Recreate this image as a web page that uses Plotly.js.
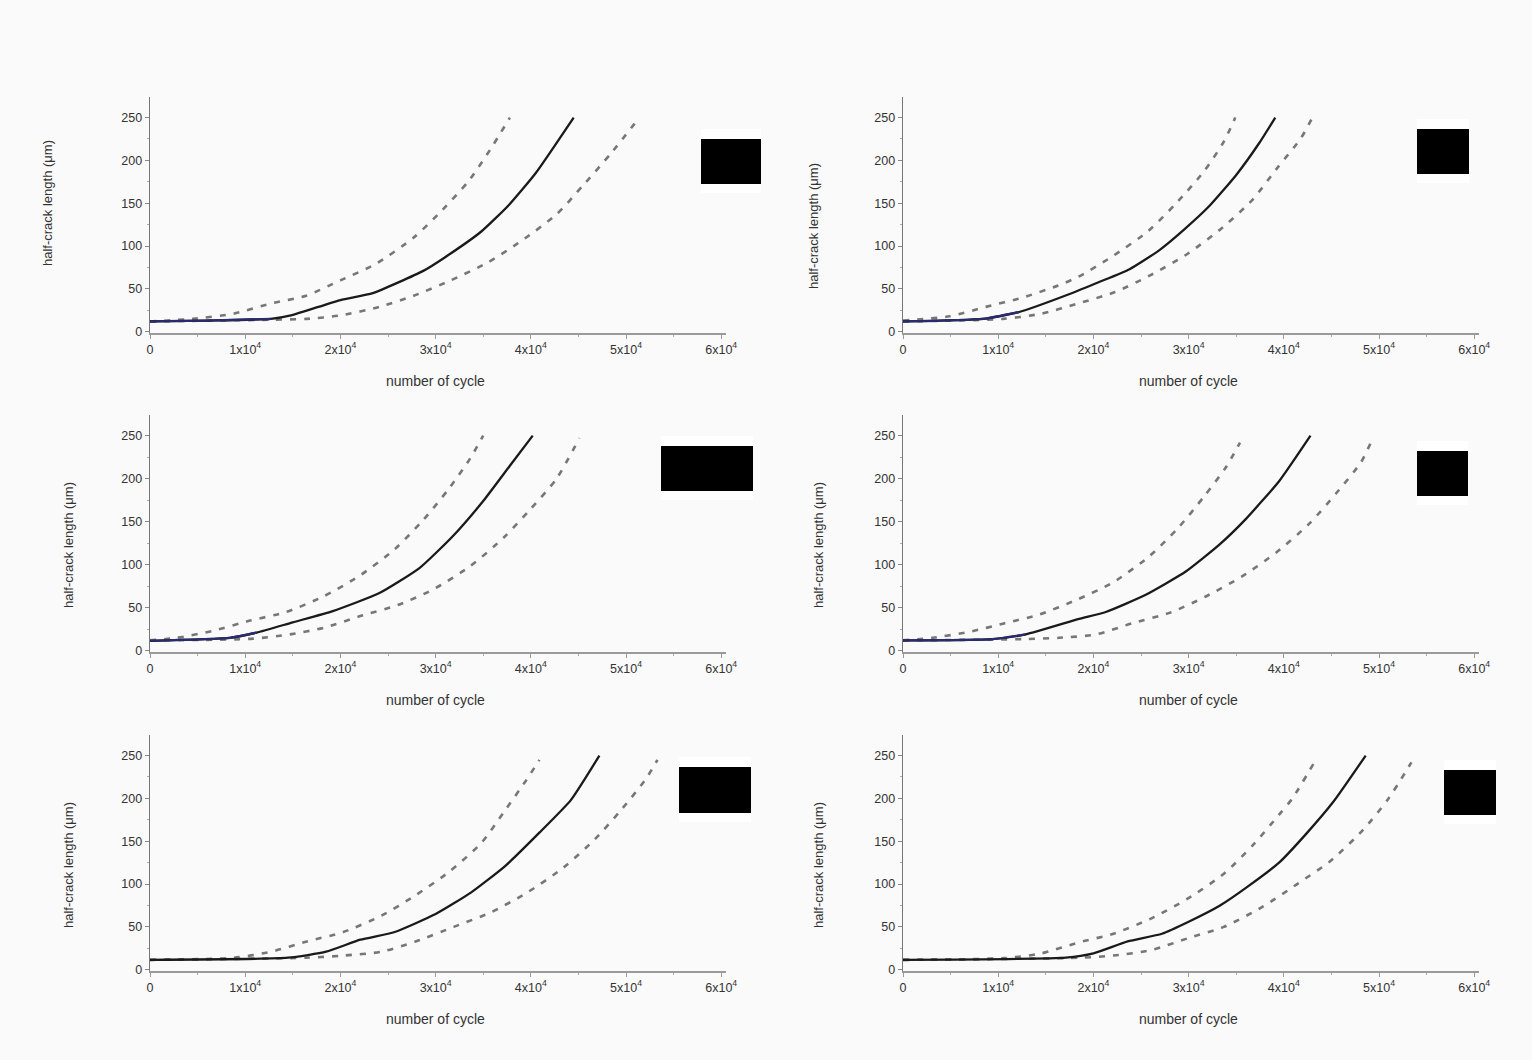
<!DOCTYPE html>
<html>
<head>
<meta charset="utf-8">
<script src="https://cdn.plot.ly/plotly-3.0.1.min.js"></script>
<style>
  html, body { margin: 0; padding: 0; background: #fafafa; }
  #chart { width: 1532px; height: 1060px; }
</style>
</head>
<body>
<div id="chart"></div>
<script>
// Axis ticks
const cycleTicks = [0, 10000, 20000, 30000, 40000, 50000, 60000];
const cycleTickText = ['0', '1x10<sup>4</sup>', '2x10<sup>4</sup>', '3x10<sup>4</sup>', '4x10<sup>4</sup>', '5x10<sup>4</sup>', '6x10<sup>4</sup>'];
const lengthTicks = [0, 50, 100, 150, 200, 250];

// Panel 1 (top left)
const p1MeanN  = [0, 6000, 12700, 14800, 20000, 23400, 28700, 31000, 34800, 37700, 40500, 44500];
const p1MeanA  = [12, 13, 15, 19, 37, 45, 71, 87, 117, 148, 185, 250];
const p1UpperN = [0, 4500, 8750, 12700, 16400, 20000, 23700, 27700, 30700, 33400, 35700, 37800];
const p1UpperA = [12, 15, 21, 33, 42, 60, 79, 110, 142, 175, 212, 250];
const p1LowerN = [0, 12700, 16400, 20000, 24100, 27700, 31600, 35500, 39000, 42700, 45500, 48400, 51400];
const p1LowerA = [12, 14, 15, 19, 29, 42, 60, 81, 106, 137, 171, 208, 250];

// Panel 2 (top right)
const p2MeanN  = [0, 8400, 12200, 17500, 20600, 23800, 26900, 29400, 32200, 35000, 37400, 39100];
const p2MeanA  = [12, 15, 23, 44, 58, 73, 95, 118, 147, 183, 220, 250];
const p2UpperN = [0, 4900, 8700, 12600, 16300, 18400, 22000, 25700, 28700, 31600, 33700, 34900];
const p2UpperA = [13, 18, 29, 40, 54, 64, 88, 117, 150, 187, 222, 250];
const p2LowerN = [0, 10500, 14500, 18400, 22200, 26000, 29900, 33600, 36700, 39300, 41800, 43000];
const p2LowerA = [12, 15, 21, 33, 46, 66, 91, 122, 154, 191, 226, 250];

// Panel 3 (middle left)
const p3MeanN  = [0, 8400, 11200, 15000, 19200, 24100, 28300, 31800, 35000, 37800, 40200];
const p3MeanA  = [11.5, 15, 21, 33, 46, 67, 96, 133, 174, 215, 250];
const p3UpperN = [0, 2800, 6600, 10500, 14300, 18200, 22000, 25700, 28700, 31300, 33600, 35000];
const p3UpperA = [12, 15, 23, 35, 45, 63, 87, 118, 152, 187, 223, 250];
const p3LowerN = [0, 10800, 14700, 18400, 22000, 26000, 29700, 33600, 37100, 40000, 42700, 45100];
const p3LowerA = [12, 14, 19, 27, 40, 53, 71, 98, 131, 165, 200, 247];

// Panel 4 (middle right)
const p4MeanN  = [0, 9400, 12900, 18500, 21300, 25500, 29700, 33200, 36000, 39500, 42800];
const p4MeanA  = [12, 13.5, 19, 37, 45, 65, 92, 123, 153, 197, 250];
const p4UpperN = [0, 3100, 7000, 10700, 14300, 18200, 22000, 25900, 29000, 31600, 33900, 35400];
const p4UpperA = [12, 15, 22, 32, 42, 59, 79, 110, 144, 179, 213, 242];
const p4LowerN = [0, 12600, 16400, 20300, 24100, 28000, 31800, 35700, 39300, 42700, 45500, 48100, 49300];
const p4LowerA = [12, 13.5, 15, 19, 32, 44, 63, 87, 115, 148, 183, 219, 246];

// Panel 5 (bottom left)
const p5MeanN  = [0, 14500, 18500, 22100, 25700, 30000, 33700, 37300, 40900, 44200, 47200];
const p5MeanA  = [11.5, 14, 21, 35, 44, 65, 90, 121, 160, 198, 250];
const p5UpperN = [0, 8800, 12700, 16500, 20300, 24300, 27900, 31500, 34800, 37100, 39500, 40900];
const p5UpperA = [11.5, 14, 21, 33, 44, 63, 87, 115, 148, 183, 221, 245];
const p5LowerN = [0, 16400, 20300, 24300, 27900, 31900, 35800, 39600, 43400, 46700, 49600, 52100, 53300];
const p5LowerA = [11.5, 14, 16.5, 21, 33, 50, 67, 90, 119, 152, 188, 223, 245];

// Panel 6 (bottom right)
const p6MeanN  = [0, 17100, 20000, 23600, 27200, 30000, 33300, 36200, 39500, 42300, 45200, 48600];
const p6MeanA  = [11.5, 14, 19, 33, 42, 56, 75, 97, 125, 158, 196, 250];
const p6UpperN = [0, 10600, 14500, 18500, 22100, 26100, 29900, 33700, 36800, 39500, 40900, 43200];
const p6UpperA = [11.5, 13.5, 19, 32, 42, 60, 83, 112, 146, 181, 200, 242];
const p6LowerN = [0, 18500, 22100, 26100, 30000, 33700, 37700, 41400, 44900, 48300, 51000, 53400];
const p6LowerA = [11.5, 14, 16.5, 23, 37, 50, 73, 100, 127, 163, 200, 242];

const W = 1532, H = 1060;

// Panel frames in pixels: plot-area left/right/top/bottom, plus label placement
const panels = [
  { mean: [p1MeanN, p1MeanA], upper: [p1UpperN, p1UpperA], lower: [p1LowerN, p1LowerA],
    l: 150, r: 726, t: 97, b: 333, ytx: 47, yty: 203, box: [701, 139, 761, 184] },
  { mean: [p2MeanN, p2MeanA], upper: [p2UpperN, p2UpperA], lower: [p2LowerN, p2LowerA],
    l: 903, r: 1479, t: 97, b: 333, ytx: 813, yty: 226, box: [1417, 129, 1469, 174] },
  { mean: [p3MeanN, p3MeanA], upper: [p3UpperN, p3UpperA], lower: [p3LowerN, p3LowerA],
    l: 150, r: 726, t: 415, b: 652, ytx: 68, yty: 545, box: [661, 446, 753, 491] },
  { mean: [p4MeanN, p4MeanA], upper: [p4UpperN, p4UpperA], lower: [p4LowerN, p4LowerA],
    l: 903, r: 1479, t: 415, b: 652, ytx: 818, yty: 545, box: [1417, 451, 1468, 496] },
  { mean: [p5MeanN, p5MeanA], upper: [p5UpperN, p5UpperA], lower: [p5LowerN, p5LowerA],
    l: 150, r: 726, t: 735, b: 971, ytx: 68, yty: 865, box: [679, 767, 751, 813] },
  { mean: [p6MeanN, p6MeanA], upper: [p6UpperN, p6UpperA], lower: [p6LowerN, p6LowerA],
    l: 903, r: 1479, t: 735, b: 971, ytx: 818, yty: 865, box: [1444, 770, 1496, 815] }
];

const px = v => v / W;
const py = v => 1 - v / H;

const textFont = { family: 'Liberation Sans, Arial, sans-serif', color: '#333' };
const traces = [];
const layout = {
  width: W, height: H,
  margin: { l: 0, r: 0, t: 0, b: 0 },
  paper_bgcolor: '#fafafa',
  plot_bgcolor: '#fafafa',
  showlegend: false,
  annotations: [],
  shapes: []
};

panels.forEach((p, i) => {
  const k = i + 1;
  const xa = k === 1 ? 'x' : 'x' + k;
  const ya = k === 1 ? 'y' : 'y' + k;
  const xKey = k === 1 ? 'xaxis' : 'xaxis' + k;
  const yKey = k === 1 ? 'yaxis' : 'yaxis' + k;

  // Dashed bounds
  [p.upper, p.lower].forEach(s => {
    traces.push({
      x: s[0], y: s[1], xaxis: xa, yaxis: ya, type: 'scatter', mode: 'lines',
      line: { color: '#777777', width: 2.6, dash: '6px,8px', shape: 'spline', smoothing: 0.7 },
      hoverinfo: 'skip'
    });
  });
  // Mean curve
  traces.push({
    x: p.mean[0], y: p.mean[1], xaxis: xa, yaxis: ya, type: 'scatter', mode: 'lines',
    line: { color: '#1a1a1a', width: 2.3, shape: 'spline', smoothing: 0.5 }, hoverinfo: 'skip'
  });
  // Early stage of the mean curve, drawn in navy
  const earlyN = p.mean[0].filter(n => n <= 14000);
  const earlyA = p.mean[1].slice(0, earlyN.length);
  traces.push({
    x: earlyN, y: earlyA, xaxis: xa, yaxis: ya, type: 'scatter', mode: 'lines',
    line: { color: '#2a2a6e', width: 2.3, shape: 'spline', smoothing: 0.5 }, hoverinfo: 'skip'
  });

  layout[xKey] = {
    domain: [px(p.l), px(p.r)], anchor: ya, range: [0, 60500],
    showgrid: false, zeroline: false, showline: true, linecolor: '#9a9a9a', linewidth: 1.6,
    ticks: 'outside', ticklen: 4, tickcolor: '#9a9a9a', tickwidth: 1,
    tickmode: 'array', tickvals: cycleTicks, ticktext: cycleTickText,
    tickfont: Object.assign({ size: 12.5 }, textFont),
    minor: { tick0: 0, dtick: 5000, ticks: 'outside', ticklen: 2, tickcolor: '#aaa' },
    fixedrange: true
  };
  layout[yKey] = {
    domain: [py(p.b), py(p.t)], anchor: xa, range: [-1.5, 274],
    showgrid: false, zeroline: false, showline: true, linecolor: '#777', linewidth: 1.4,
    ticks: 'outside', ticklen: 4, tickcolor: '#888', tickwidth: 1,
    tickmode: 'array', tickvals: lengthTicks,
    tickfont: Object.assign({ size: 12.5 }, textFont),
    minor: { tick0: 0, dtick: 25, ticks: 'outside', ticklen: 2, tickcolor: '#aaa' },
    fixedrange: true
  };

  // Axis titles
  layout.annotations.push({
    xref: 'paper', yref: 'paper', x: px((p.l + p.r) / 2 - 3), y: py(p.b + 48),
    xanchor: 'center', yanchor: 'middle', showarrow: false,
    text: 'number of cycle', font: Object.assign({ size: 14 }, textFont)
  });
  layout.annotations.push({
    xref: 'paper', yref: 'paper', x: px(p.ytx), y: py(p.yty),
    xanchor: 'center', yanchor: 'middle', showarrow: false, textangle: -90,
    text: 'half-crack length (\u03bcm)', font: Object.assign({ size: 13 }, textFont)
  });

  // Label boxes
  const [x0, y0, x1, y1] = p.box;
  layout.shapes.push({
    type: 'rect', xref: 'paper', yref: 'paper', layer: 'above',
    x0: px(x0), x1: px(x1), y0: py(y0 - 10), y1: py(y1 + 9),
    fillcolor: '#ffffff', line: { width: 0 }
  });
  layout.shapes.push({
    type: 'rect', xref: 'paper', yref: 'paper', layer: 'above',
    x0: px(x0), x1: px(x1), y0: py(y0), y1: py(y1),
    fillcolor: '#000000', line: { width: 0 }
  });
});

Plotly.newPlot('chart', traces, layout, { staticPlot: true, displayModeBar: false });
</script>
</body>
</html>
